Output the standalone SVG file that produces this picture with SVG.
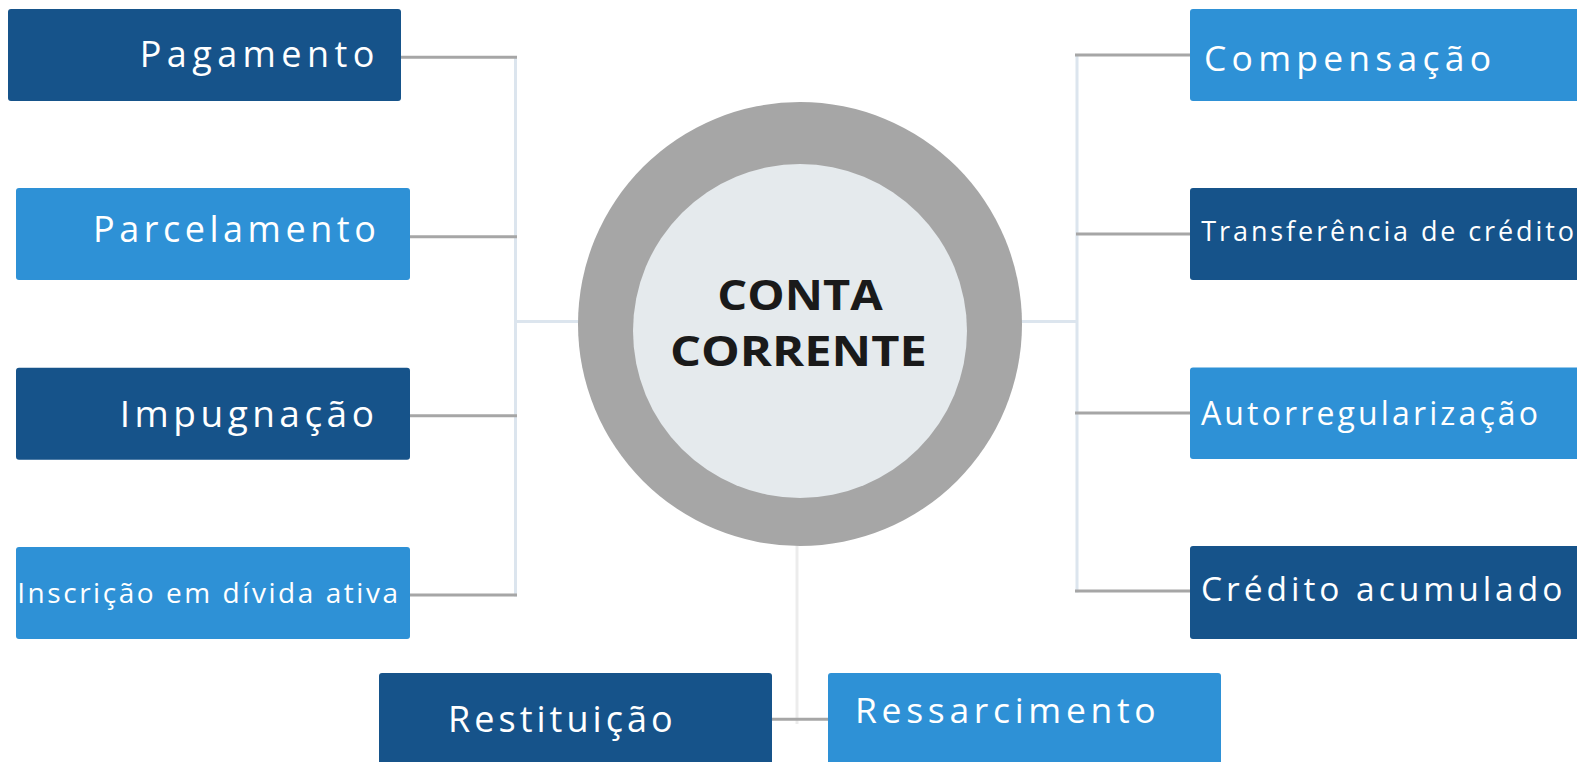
<svg xmlns="http://www.w3.org/2000/svg" width="1577" height="762" viewBox="0 0 1577 762">
<style>
.dark{fill:#16538A}
.light{fill:#2E91D6}
.lbl{font-family:"Open Sans","Noto Sans","Liberation Sans",sans-serif;font-weight:400;fill:#ffffff}
.gray{stroke:#A6A6A6;stroke-width:3;fill:none}
.pale{stroke:#DCE5EE;stroke-width:3;fill:none}
.pale2{stroke:#ECECEC;stroke-width:3;fill:none}
.center{font-family:"Open Sans","Liberation Sans",sans-serif;font-weight:700;fill:#1A1A1A;font-size:42px}
</style>
<rect width="1577" height="762" fill="#ffffff"/>
<g id="connectors">
<line class="pale" x1="515.5" y1="57" x2="515.5" y2="596.5"/>
<line class="pale" x1="515.5" y1="321.5" x2="580" y2="321.5"/>
<line class="pale" x1="1077" y1="55" x2="1077" y2="592.5"/>
<line class="pale" x1="1020" y1="321.5" x2="1077" y2="321.5"/>
<line class="pale2" x1="797" y1="544" x2="797" y2="724"/>
<line class="gray" x1="401" y1="57.3" x2="517" y2="57.3"/>
<line class="gray" x1="410" y1="236.7" x2="517" y2="236.7"/>
<line class="gray" x1="410" y1="415.7" x2="517" y2="415.7"/>
<line class="gray" x1="410" y1="595" x2="517" y2="595"/>
<line class="gray" x1="1075" y1="55" x2="1190" y2="55"/>
<line class="gray" x1="1076" y1="234" x2="1190" y2="234"/>
<line class="gray" x1="1075" y1="413" x2="1190" y2="413"/>
<line class="gray" x1="1075" y1="591" x2="1190" y2="591"/>
<line class="gray" x1="772" y1="719.3" x2="828" y2="719.3"/>
</g>
<g id="center">
<circle cx="800" cy="324" r="222" fill="#A6A6A6"/>
<circle cx="800" cy="331" r="167" fill="#E5EAED"/>
<text class="center" x="717.3" y="310" textLength="165.4" lengthAdjust="spacingAndGlyphs">CONTA</text>
<text class="center" x="670" y="366" textLength="256.7" lengthAdjust="spacingAndGlyphs">CORRENTE</text>
</g>
<g id="pagamento">
<rect class="dark" x="8" y="9" width="393" height="92" rx="3"/>
<text class="lbl" x="139.7" y="66.7" font-size="36" textLength="234.6" lengthAdjust="spacing">Pagamento</text>
</g>
<g id="parcelamento">
<rect class="light" x="16" y="188" width="394" height="92" rx="3"/>
<text class="lbl" x="93" y="242.3" font-size="36" textLength="282.8" lengthAdjust="spacing">Parcelamento</text>
</g>
<g id="impugnacao">
<rect class="dark" x="16" y="367.7" width="394" height="92" rx="3"/>
<text class="lbl" x="119.8" y="426.7" font-size="37" textLength="254.1" lengthAdjust="spacing">Impugnação</text>
</g>
<g id="inscricao">
<rect class="light" x="16" y="547" width="394" height="92" rx="3"/>
<text class="lbl" x="17.2" y="602.7" font-size="28" textLength="380.8" lengthAdjust="spacing">Inscrição em dívida ativa</text>
</g>
<g id="compensacao">
<rect class="light" x="1190" y="9" width="400" height="92" rx="3"/>
<text class="lbl" x="1204" y="71" font-size="35.5" textLength="287" lengthAdjust="spacing">Compensação</text>
</g>
<g id="transferencia">
<rect class="dark" x="1190" y="188" width="400" height="92" rx="3"/>
<text class="lbl" x="1201.3" y="240.7" font-size="27" textLength="372.7" lengthAdjust="spacing">Transferência de crédito</text>
</g>
<g id="autorregularizacao">
<rect class="light" x="1190" y="367.6" width="400" height="91.5" rx="3"/>
<text class="lbl" x="1201" y="425.3" font-size="32" textLength="337" lengthAdjust="spacing">Autorregularização</text>
</g>
<g id="credito-acumulado">
<rect class="dark" x="1190" y="546" width="400" height="93" rx="3"/>
<text class="lbl" x="1201" y="601" font-size="33.5" textLength="361.3" lengthAdjust="spacing">Crédito acumulado</text>
</g>
<g id="restituicao">
<rect class="dark" x="379" y="673" width="393" height="100" rx="3"/>
<text class="lbl" x="448" y="731.7" font-size="36" textLength="224.6" lengthAdjust="spacing">Restituição</text>
</g>
<g id="ressarcimento">
<rect class="light" x="828" y="673" width="393" height="100" rx="3"/>
<text class="lbl" x="855" y="722.7" font-size="35.5" textLength="300.7" lengthAdjust="spacing">Ressarcimento</text>
</g>
</svg>
